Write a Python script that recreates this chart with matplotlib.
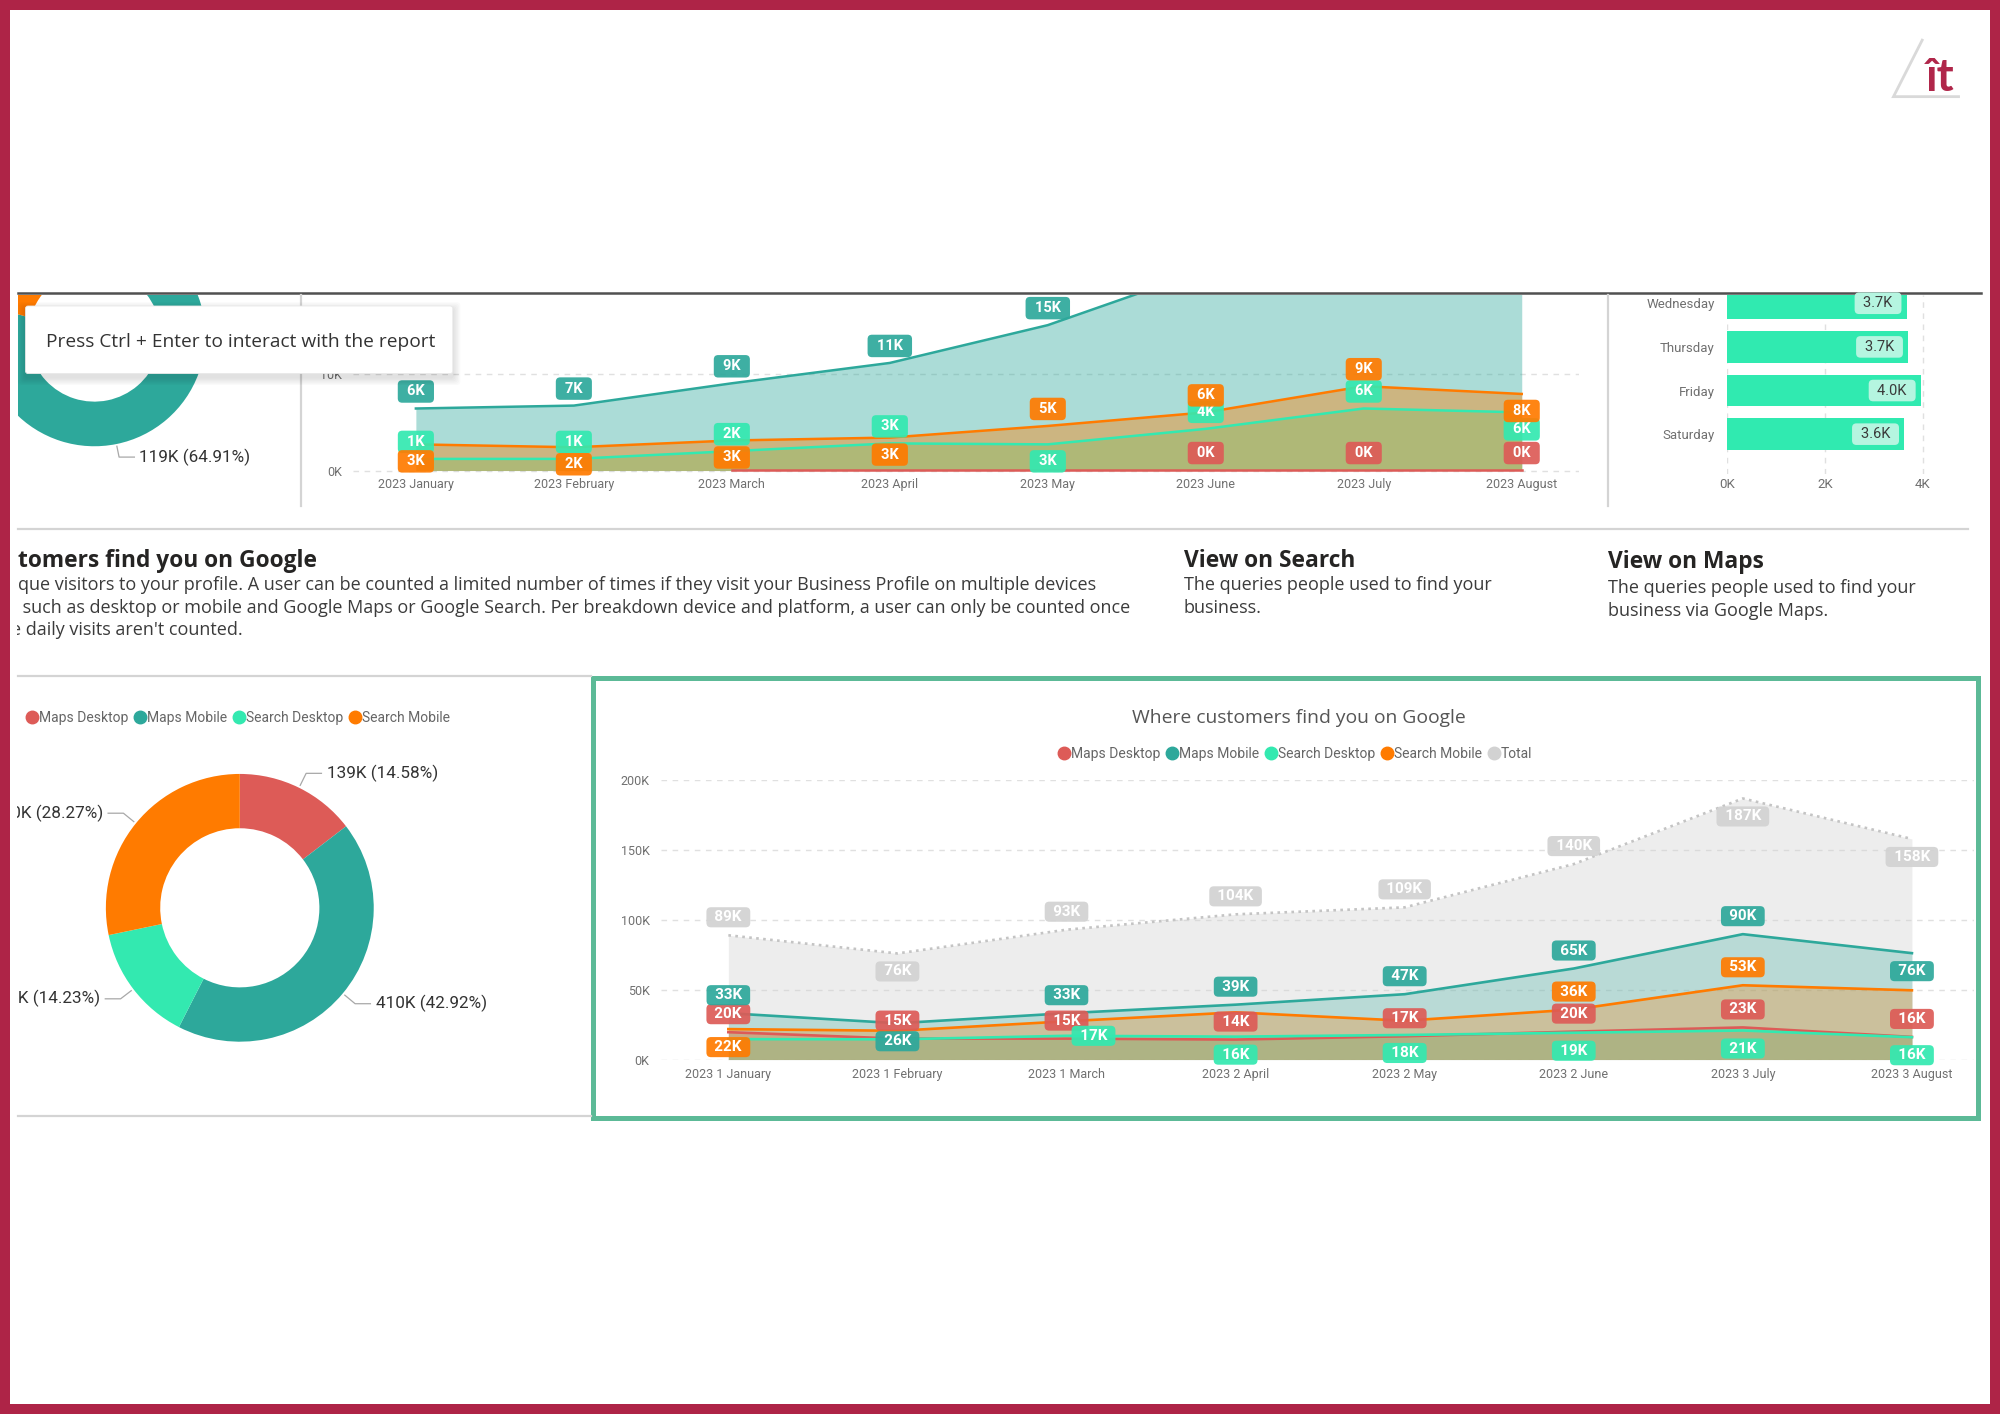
import matplotlib
matplotlib.use('Agg')
import matplotlib.pyplot as plt
import numpy as np
from matplotlib.patches import Rectangle, FancyBboxPatch
from matplotlib.lines import Line2D
from matplotlib.ticker import FuncFormatter

plt.rcParams['font.family'] = ['Roboto', 'DejaVu Sans']

# layout grid of the report screenshot (all positions below are in this grid)
W, H = 1568, 1109

# ---------------- data ----------------
top_months = ['2023 January', '2023 February', '2023 March', '2023 April',
              '2023 May', '2023 June', '2023 July', '2023 August']
top_maps_mobile = [6.4, 6.7, 9.0, 11.1, 15.0, 20.7, 26.0, 24.1]
top_search_mobile = [2.7, 2.4, 3.1, 3.4, 4.6, 6.0, 8.7, 7.9]
top_search_desktop = [1.2, 1.2, 2.0, 2.8, 2.7, 4.3, 6.4, 6.0]
top_maps_desktop = [np.nan, np.nan, 0.05, 0.05, 0.05, 0.05, 0.05, 0.05]

top_donut_names = ['Search Desktop', 'Maps Mobile', 'Search Mobile']
top_donut_values = [26.33, 119.0, 38.0]

weekdays = ['Wednesday', 'Thursday', 'Friday', 'Saturday']
weekday_visits = [3.67, 3.70, 3.96, 3.62]

main_months = ['2023 1 January', '2023 1 February', '2023 1 March', '2023 2 April',
               '2023 2 May', '2023 2 June', '2023 3 July', '2023 3 August']
main_maps_desktop = [19.6, 15.0, 15.0, 14.3, 16.7, 20.0, 23.0, 16.2]
main_maps_mobile = [33.2, 26.0, 33.2, 39.3, 46.8, 65.2, 89.8, 76.2]
main_search_desktop = [14.6, 14.5, 17.0, 16.4, 17.6, 19.2, 20.8, 16.0]
main_search_mobile = [21.8, 20.6, 27.4, 33.8, 27.8, 35.8, 53.2, 49.6]
main_total = [89, 76, 93, 104, 109, 140, 187, 158]

donut_names = ['Maps Desktop', 'Maps Mobile', 'Search Desktop', 'Search Mobile']
donut_values = [139.2, 409.7, 135.8, 269.8]

COLORS = {'Maps Desktop': '#DD5B57', 'Maps Mobile': '#2DA89B',
          'Search Desktop': '#33E9B0', 'Search Mobile': '#FF7B00', 'Total': '#D2D2D2'}

# where each data label sits: a = above, b = below, r = right, None = hidden
TOP_TAGS = {
    'Maps Mobile': ['a'] * 8,
    'Search Desktop': ['a', 'a', 'a', 'a', 'b', 'a', 'a', 'b'],
    'Search Mobile': ['b', 'b', 'b', 'b', 'a', 'a', 'a', 'b'],
    'Maps Desktop': [None, None, None, None, None, 'a', 'a', 'a'],
}
MAIN_TAGS = {
    'Total': ['a', 'b', 'a', 'a', 'a', 'a', 'b', 'b'],
    'Maps Mobile': ['a', 'b', 'a', 'a', 'a', 'a', 'a', 'b'],
    'Search Mobile': ['b', None, None, None, None, 'a', 'a', None],
    'Maps Desktop': ['a'] * 8,
    'Search Desktop': [None, None, 'r', 'b', 'b', 'b', 'b', 'b'],
}

TICK = '#707070'
SP = '\u2004'  # padding space inside the label chips
fig = plt.figure(figsize=(20, 14.14), dpi=100)


def place(x0, y0, x1, y1, **kw):
    return fig.add_axes([x0 / W, 1 - y1 / H, (x1 - x0) / W, (y1 - y0) / H], **kw)


def tag(ax, x, y, text, color, where, size=11, pad=0.2, dist=18, clip=False, txt='white'):
    dx, dy = {'a': (0, dist), 'b': (0, -dist), 'r': (27, 0)}[where]
    ax.annotate(SP + text + SP, (x, y), xytext=(dx, dy),
                textcoords='offset pixels', ha='center', va='center',
                fontsize=size, fontweight='bold', color=txt,
                bbox=dict(boxstyle=f'round,pad={pad},rounding_size=0.3',
                          fc=color, ec='none', alpha=0.92),
                annotation_clip=clip, zorder=6)


def k_fmt(v, _):
    return f'{v:.0f}K'


def style_line_axes(ax):
    for s in ax.spines.values():
        s.set_visible(False)
    ax.tick_params(length=0, colors=TICK)
    ax.yaxis.grid(True, ls=(0, (4, 4)), color='#E0E0E0', lw=1)
    ax.set_axisbelow(True)
    ax.yaxis.set_major_formatter(FuncFormatter(k_fmt))


def donut(ax, values, names, r_out, r_in):
    wedges, _ = ax.pie(values, colors=[COLORS[n] for n in names],
                       startangle=90, counterclock=False, radius=1,
                       wedgeprops=dict(width=1 - r_in / r_out, linewidth=0))
    for w in wedges:
        w.set_clip_on(True)
    return wedges


def donut_labels(ax, wedges, values, radius_px):
    total = sum(values)
    (xa, xb), (ya, yb) = ax.get_xlim(), ax.get_ylim()
    for w, v in zip(wedges, values):
        ang = np.deg2rad((w.theta1 + w.theta2) / 2)
        c, s = np.cos(ang), np.sin(ang)
        side = 1 if c >= 0 else -1
        x2, y2 = 1.12 * c, 1.12 * s
        if not (ya < y2 < yb and xa < x2 < xb):
            continue  # label is outside the visible part of the visual
        x3 = x2 + side * 12 / radius_px
        ax.plot([1.02 * c, x2, x3], [1.02 * s, y2, y2], color='#A8A8A8', lw=0.9)
        ax.text(x3 + side * 4 / radius_px, y2, f'{v:.0f}K ({v / total:.2%})',
                ha='left' if side > 0 else 'right', va='center', fontsize=12.3,
                color='#333333', clip_on=True)


# ---------------- background page ----------------
bg = place(0, 0, W, H)
bg.set_xlim(0, W)
bg.set_ylim(H, 0)
bg.axis('off')

bg.plot([14, 1553], [230, 230], color='#505050', lw=1.8)
bg.plot([14, 1543], [415, 415], color='#D4D4D4', lw=1.6)
bg.plot([14, 463], [530, 530], color='#D4D4D4', lw=1.6)
bg.plot([14, 463], [875, 875], color='#D4D4D4', lw=1.6)
bg.plot([236, 236], [231, 397], color='#D4D4D4', lw=1.6)
bg.plot([1261, 1261], [231, 397], color='#D4D4D4', lw=1.6)
bg.add_patch(Rectangle((465, 532), 1086, 345, fc='white', ec='#5CBA97', lw=3.6))

clip_rect = Rectangle((13, 0), 1540, H, transform=bg.transData)
texts = [
    (14, 440, 'tomers find you on Google', 16.4, 'bold', '#252423'),
    (14, 459, 'que visitors to your profile. A user can be counted a limited number of times '
              'if they visit your Business Profile on multiple devices', 13, 'normal', '#3B3B3B'),
    (14, 476.5, ' such as desktop or mobile and Google Maps or Google Search. Per breakdown device '
                'and platform, a user can only be counted once', 13, 'normal', '#3B3B3B'),
    (9, 494, 'e daily visits aren\'t counted.', 13, 'normal', '#3B3B3B'),
    (928, 440, 'View on Search', 16.4, 'bold', '#252423'),
    (928, 459, 'The queries people used to find your', 13, 'normal', '#3B3B3B'),
    (928, 477, 'business.', 13, 'normal', '#3B3B3B'),
    (1261, 441, 'View on Maps', 16.4, 'bold', '#252423'),
    (1261, 461, 'The queries people used to find your', 13, 'normal', '#3B3B3B'),
    (1261, 479, 'business via Google Maps.', 13, 'normal', '#3B3B3B'),
]
for x, y, s, size, weight, col in texts:
    t = bg.text(x, y, s, fontsize=size, fontweight=weight, color=col, va='center',
                family=['Open Sans', 'DejaVu Sans'], clip_on=True)
    t.set_clip_path(clip_rect)

bg.text(1018, 563, 'Where customers find you on Google', fontsize=13.9, color='#555555',
        ha='center', va='center', family=['Open Sans', 'DejaVu Sans'])

# ---------------- top-left donut (cut off) ----------------
R1 = 87
axd1 = place(14, 231, 236, 397)
w1 = donut(axd1, top_donut_values, top_donut_names, R1, 52)
axd1.set_aspect('auto')
axd1.set_xlim((14 - 74) / R1, (236 - 74) / R1)
axd1.set_ylim((263 - 397) / R1, (263 - 231) / R1)
axd1.axis('off')
donut_labels(axd1, w1, top_donut_values, R1)

# ---------------- top area chart ----------------
axt = place(277, 231, 1238, 372)
xt = np.arange(len(top_months))
top_series = [('Maps Desktop', top_maps_desktop), ('Maps Mobile', top_maps_mobile),
              ('Search Desktop', top_search_desktop), ('Search Mobile', top_search_mobile)]
for name, vals in top_series:
    axt.fill_between(xt, vals, color=COLORS[name], alpha=0.4, lw=0)
for name, vals in top_series:
    axt.plot(xt, vals, color=COLORS[name], lw=1.8)
for name, vals in top_series:
    for i, v in enumerate(vals):
        pos = TOP_TAGS[name][i]
        if pos and not np.isnan(v):
            tag(axt, i, v, f'{v:.0f}K', COLORS[name], pos, size=10.5, pad=0.29,
                dist=17, clip=True)
axt.set_xlim(-0.396, 7.363)
axt.set_ylim(-0.39, (369 - 231) / 7.6)
axt.set_xticks(xt, top_months)
axt.set_yticks([0, 10])
style_line_axes(axt)
axt.tick_params(axis='x', pad=3, labelsize=9)
axt.tick_params(axis='y', pad=8, labelsize=9)

# ---------------- weekday bars ----------------
axb = place(1354, 231, 1519, 372)
yb = np.arange(len(weekdays))
axb.barh(yb, weekday_visits, height=0.73, color='#30EAB0')
for i, v in enumerate(weekday_visits):
    axb.annotate(SP + f'{v:.1f}K' + SP, (v, i), xytext=(-9, 0),
                 textcoords='offset pixels', ha='right', va='center', fontsize=10.5,
                 color='#3A3A3A',
                 bbox=dict(boxstyle='round,pad=0.26,rounding_size=0.3', fc='#B5F5E0', ec='none'))
axb.set_ylim(3.92, -0.2)
axb.set_xlim(0, 4.3)
axb.set_yticks(yb, weekdays)
axb.set_xticks([0, 2, 4])
axb.xaxis.set_major_formatter(FuncFormatter(k_fmt))
for s in axb.spines.values():
    s.set_visible(False)
axb.tick_params(length=0, colors=TICK, labelsize=9.5)
axb.tick_params(axis='y', pad=9)
axb.tick_params(axis='x', pad=3)
axb.xaxis.grid(True, ls=(0, (4, 4)), color='#E0E0E0', lw=1)
axb.set_axisbelow(True)

# ---------------- bottom-left donut ----------------
R2 = 105
axd2 = place(13, 590, 460, 865)
w2 = donut(axd2, donut_values, donut_names, R2, 62.4)
axd2.set_aspect('auto')
axd2.set_xlim((13 - 188) / R2, (460 - 188) / R2)
axd2.set_ylim((712 - 865) / R2, (712 - 590) / R2)
axd2.axis('off')
donut_labels(axd2, w2, donut_values, R2)

handles = [Line2D([], [], marker='o', ls='', color=COLORS[n], markersize=9) for n in donut_names]
fig.legend(handles, donut_names, loc='center left', bbox_to_anchor=(21 / W, 1 - 563 / H),
           ncol=4, frameon=False, fontsize=10, labelcolor='#666666', handlelength=0.7,
           handletextpad=0.15, columnspacing=0.5, borderpad=0, borderaxespad=0)

# ---------------- main chart ----------------
axm = place(518, 612, 1548, 831)
xm = np.arange(len(main_months))
axm.fill_between(xm, main_total, color=COLORS['Total'], alpha=0.38, lw=0)
axm.plot(xm, main_total, color='#C4C4C4', lw=1.9, ls=':')
main_series = [('Maps Desktop', main_maps_desktop), ('Maps Mobile', main_maps_mobile),
               ('Search Desktop', main_search_desktop), ('Search Mobile', main_search_mobile)]
for name, vals in main_series:
    axm.fill_between(xm, vals, color=COLORS[name], alpha=0.27, lw=0)
for name, vals in main_series:
    axm.plot(xm, vals, color=COLORS[name], lw=1.9)
for name, vals in [('Total', main_total)] + main_series:
    for i, v in enumerate(vals):
        pos = MAIN_TAGS[name][i]
        if pos:
            tag(axm, i, v, f'{v:.0f}K', COLORS[name], pos)
axm.set_xlim(-0.40, 7.37)
axm.set_ylim(0, 200)
axm.set_xticks(xm, main_months)
axm.set_yticks([0, 50, 100, 150, 200])
style_line_axes(axm)
axm.tick_params(axis='x', pad=6, labelsize=9)
axm.tick_params(axis='y', pad=8, labelsize=9)

handles = [Line2D([], [], marker='o', ls='', color=COLORS[n], markersize=9)
           for n in donut_names + ['Total']]
fig.legend(handles, donut_names + ['Total'], loc='center', bbox_to_anchor=(1016 / W, 1 - 591 / H),
           ncol=5, frameon=False, fontsize=10, labelcolor='#666666', handlelength=0.7,
           handletextpad=0.15, columnspacing=0.5, borderpad=0, borderaxespad=0)

# ---------------- overlay: tooltip, logo, frame ----------------
fg = place(0, 0, W, H, zorder=10)
fg.set_xlim(0, W)
fg.set_ylim(H, 0)
fg.patch.set_alpha(0)
fg.axis('off')

for k in range(1, 7):
    fg.add_patch(FancyBboxPatch((20 - k, 240 - k + 3), 335 + 2 * k, 53 + 2 * k,
                                boxstyle='round,pad=0,rounding_size=3',
                                fc='black', ec='none', alpha=0.018))
fg.add_patch(FancyBboxPatch((20, 240), 335, 53, boxstyle='round,pad=0,rounding_size=2',
                            fc='white', ec='#E8E8E8', lw=0.6))
fg.text(36, 268, 'Press Ctrl + Enter to interact with the report', fontsize=13.8,
        color='#333333', va='center', family=['Open Sans', 'DejaVu Sans'])

fg.plot([1507, 1484.5, 1535.5], [31.5, 75.8, 75.8], color='#D9D9D9', lw=2,
        solid_joinstyle='miter')
fg.text(1510, 71, '\u00eet', fontsize=33, fontweight='bold', color='#B0264A',
        family=['Lato', 'DejaVu Sans'], va='baseline')

FRAME = '#AE2447'
for x, y, w, h in [(0, 0, W, 8), (0, H - 8, W, 8), (0, 0, 8, H), (W - 8, 0, 8, H)]:
    fg.add_patch(Rectangle((x, y), w, h, fc=FRAME, ec='none'))

fig.savefig('out.png', dpi=100)
